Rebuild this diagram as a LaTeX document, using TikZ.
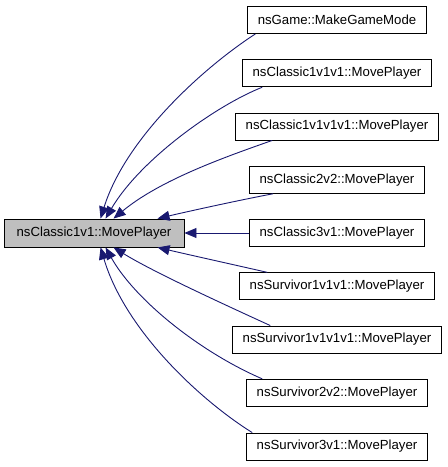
\documentclass[tikz,border=0pt]{standalone}
\usepackage{fontspec}
\setmainfont{Liberation Sans}
\usetikzlibrary{arrows.meta}
\definecolor{edgeblue}{HTML}{191970}
\definecolor{maingray}{HTML}{BFBFBF}
\tikzset{
  box/.style={draw=black, line width=0.9bp, fill=white, minimum height=27bp, inner xsep=10bp, inner ysep=0bp, font=\fontsize{13.2bp}{15bp}\selectfont},
  mainbox/.style={box, fill=maingray, minimum width=180bp, minimum height=28bp},
  edge/.style={draw=edgeblue, line width=0.9bp, -{Triangle[length=12bp,width=10bp]}, fill=none},
}
\begin{document}
\begin{tikzpicture}[x=1bp,y=-1bp]
\useasboundingbox (0,0) rectangle (448,467);
\node[mainbox] (main) at (94,233) {nsClassic1v1::MovePlayer};
\node[box] (n1) at (337,20) {nsGame::MakeGameMode};
\node[box] (n2) at (337,73.3) {nsClassic1v1v1::MovePlayer};
\node[box] (n3) at (337,126.5) {nsClassic1v1v1v1::MovePlayer};
\node[box] (n4) at (337,179.8) {nsClassic2v2::MovePlayer};
\node[box] (n5) at (337,233) {nsClassic3v1::MovePlayer};
\node[box] (n6) at (337,286.3) {nsSurvivor1v1v1::MovePlayer};
\node[box] (n7) at (337,339.5) {nsSurvivor1v1v1v1::MovePlayer};
\node[box] (n8) at (337,392.8) {nsSurvivor2v2::MovePlayer};
\node[box] (n9) at (337,446.5) {nsSurvivor3v1::MovePlayer};

\draw[edge] ([xshift=8bp]n1.south west) .. controls (200,70) and (125,140) .. ([xshift=97bp]main.north west);
\draw[edge] ([xshift=20bp]n2.south west) .. controls (215,106) and (140,160) .. ([xshift=102bp]main.north west);
\draw[edge] ([xshift=37bp]n3.south west) .. controls (225,157) and (160,180) .. ([xshift=110bp]main.north west);
\draw[edge] ([xshift=24bp]n4.south west) .. controls (240,200) and (190,211) .. ([xshift=154bp]main.north west);
\draw[edge] (n5.west) -- (main.east);
\draw[edge] ([xshift=28bp]n6.north west) .. controls (235,265) and (190,255) .. ([xshift=154bp]main.south west);
\draw[edge] ([xshift=38bp]n7.north west) .. controls (210,298) and (150,270) .. ([xshift=110bp]main.south west);
\draw[edge] ([xshift=16bp]n8.north west) .. controls (200,352) and (135,300) .. ([xshift=102bp]main.south west);
\draw[edge] ([xshift=6bp]n9.north west) .. controls (200,400) and (125,330) .. ([xshift=97bp]main.south west);
\end{tikzpicture}
\end{document}
